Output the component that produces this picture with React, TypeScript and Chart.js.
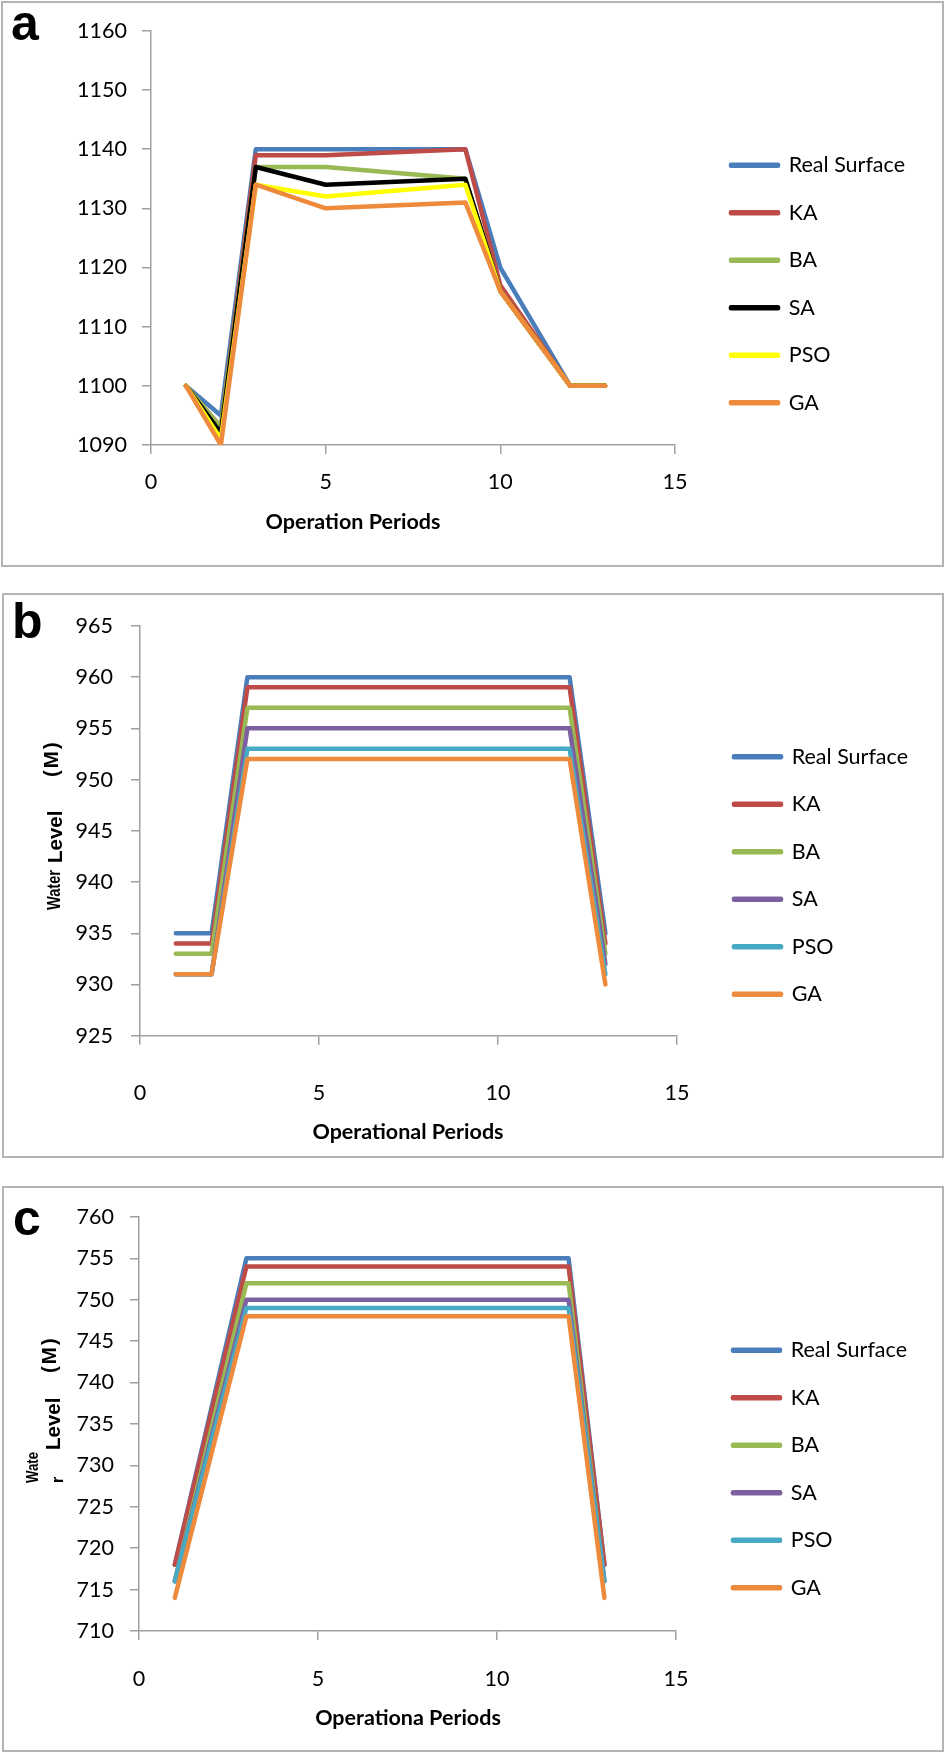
import { useEffect, useRef } from "react";
import { Chart, registerables } from "chart.js";

Chart.register(...registerables);
Chart.defaults.font.family = 'Lato, "Open Sans", sans-serif';
Chart.defaults.color = "#000";

// series names, shared by all three panels
const seriesNames = ["Real Surface", "KA", "BA", "SA", "PSO", "GA"];

// panel a
const periodsA = [1, 2, 3, 5, 9, 10, 12, 13];
const realA = [1100, 1095, 1140, 1140, 1140, 1120, 1100, 1100];
const kaA = [1100, 1093, 1139, 1139, 1140, 1117, 1100, 1100];
const baA = [1100, 1093, 1137, 1137, 1135, 1116, 1100, 1100];
const saA = [1100, 1092, 1137, 1134, 1135, 1116, 1100, 1100];
const psoA = [1100, 1091, 1134, 1132, 1134, 1116, 1100, 1100];
const gaA = [1100, 1090, 1134, 1130, 1131, 1116, 1100, 1100];
const yAxisA = [1090, 1160, 10];

// panel b
const periodsB = [1, 2, 3, 12, 13];
const realB = [935, 935, 960, 960, 935];
const kaB = [934, 934, 959, 959, 934];
const baB = [933, 933, 957, 957, 933];
const saB = [931, 931, 955, 955, 932];
const psoB = [931, 931, 953, 953, 931];
const gaB = [931, 931, 952, 952, 930];
const yAxisB = [925, 965, 5];

// panel c
const periodsC = [1, 3, 12, 13];
const realC = [718, 755, 755, 718];
const kaC = [718, 754, 754, 718];
const baC = [716, 752, 752, 716];
const saC = [716, 750, 750, 716];
const psoC = [716, 749, 749, 716];
const gaC = [714, 748, 748, 714];
const yAxisC = [710, 760, 5];

const xAxis = [0, 15, 5];

const colorsA = ["#4A7EBB", "#BE4B48", "#98B954", "#000000", "#FFFF00", "#EE8A3C"];
const colorsBC = ["#4A7EBB", "#BE4B48", "#98B954", "#7D60A0", "#46AAC5", "#EE8A3C"];

const AXIS = "#a0a0a0";
const TICK_FONT = 21.5;
const LEG_BOX = 47;
const LEG_PAD = 26;
const LETTER = 'bold 50px "Liberation Sans", Arial, sans-serif';
const TITLE = 'bold 21.5px Lato, "Open Sans", sans-serif';
const YT_BIG = 'bold 20.5px "Liberation Sans", Arial, sans-serif';
const YT_SMALL = 'bold 17.5px "Liberation Sans", Arial, sans-serif';
const YT_TINY = 'bold 16px "Liberation Sans", Arial, sans-serif';

type TextItem = {
  text: string;
  x: number;
  y: number;
  font: string;
  align?: CanvasTextAlign;
  rotate?: boolean;
  spacing?: string;
  fit?: number;
};

type PanelDef = {
  box: { left: number; top: number; width: number; height: number };
  plot: { left: number; right: number; top: number; bottom: number };
  legendLeft: number;
  xTickPad: number;
  yTickPad: number;
  periods: number[];
  series: number[][];
  colors: string[];
  yAxis: number[];
  texts: TextItem[];
};

const panels: PanelDef[] = [
  {
    box: { left: 1, top: 1, width: 943, height: 566 },
    plot: { left: 148, right: 672, top: 26.5, bottom: 442 },
    legendLeft: 702,
    xTickPad: 15.5,
    yTickPad: 15,
    periods: periodsA,
    series: [realA, kaA, baA, saA, psoA, gaA],
    colors: colorsA,
    yAxis: yAxisA,
    texts: [
      { text: "a", x: 8, y: 37, font: LETTER },
      { text: "Operation Periods", x: 350, y: 526, font: TITLE, align: "center" },
    ],
  },
  {
    box: { left: 2, top: 593, width: 942, height: 565 },
    plot: { left: 136, right: 673, top: 26.7, bottom: 440.7 },
    legendLeft: 704,
    xTickPad: 35,
    yTickPad: 18,
    periods: periodsB,
    series: [realB, kaB, baB, saB, psoB, gaB],
    colors: colorsBC,
    yAxis: yAxisB,
    texts: [
      { text: "b", x: 8, y: 43, font: LETTER },
      { text: "Operational Periods", x: 404, y: 544, font: TITLE, align: "center" },
      { text: "Water", x: 56, y: 315, font: YT_SMALL, rotate: true, fit: 40 },
      { text: "Level", x: 57.5, y: 268, font: YT_BIG, rotate: true, fit: 55 },
      { text: "(M)", x: 53.5, y: 182, font: YT_BIG, rotate: true, spacing: "2px" },
    ],
  },
  {
    box: { left: 2, top: 1186, width: 942, height: 566 },
    plot: { left: 135, right: 672, top: 27.5, bottom: 443 },
    legendLeft: 703,
    xTickPad: 26,
    yTickPad: 16,
    periods: periodsC,
    series: [realC, kaC, baC, saC, psoC, gaC],
    colors: colorsBC,
    yAxis: yAxisC,
    texts: [
      { text: "c", x: 9, y: 47, font: LETTER },
      { text: "Operationa Periods", x: 404, y: 537, font: TITLE, align: "center" },
      { text: "Wate", x: 34, y: 295, font: YT_TINY, rotate: true, fit: 31 },
      { text: "r", x: 59, y: 295, font: YT_TINY, rotate: true },
      { text: "Level", x: 56, y: 262, font: YT_BIG, rotate: true, fit: 53 },
      { text: "(M)", x: 52, y: 185, font: YT_BIG, rotate: true, spacing: "2px" },
    ],
  },
];

function textPlugin(items: TextItem[]) {
  return {
    id: "panelText",
    afterDraw(chart: Chart) {
      const ctx = chart.ctx;
      items.forEach((t) => {
        ctx.save();
        ctx.fillStyle = "#000";
        ctx.font = t.font;
        ctx.textAlign = t.align || "left";
        ctx.textBaseline = "alphabetic";
        if ("letterSpacing" in ctx) (ctx as any).letterSpacing = t.spacing || "0px";
        ctx.translate(t.x, t.y);
        if (t.rotate) ctx.rotate(-Math.PI / 2);
        if (t.fit) ctx.fillText(t.text, 0, 0, t.fit);
        else ctx.fillText(t.text, 0, 0);
        ctx.restore();
      });
    },
  };
}

function Panel({ def }: { def: PanelDef }) {
  const chartRef = useRef<HTMLCanvasElement>(null);
  const chartInstanceRef = useRef<Chart | null>(null);
  const w = def.box.width - 4;
  const h = def.box.height - 4;

  useEffect(() => {
    if (!chartRef.current) return;
    if (chartInstanceRef.current) chartInstanceRef.current.destroy();
    const ctx = chartRef.current.getContext("2d");
    if (!ctx) return;

    const p = def.plot;
    // legend width as Chart.js will compute it, so its left edge lands where wanted
    ctx.font = `${TICK_FONT}px ${Chart.defaults.font.family}`;
    const textW = Math.max(...seriesNames.map((n) => ctx.measureText(n).width));
    const legendWidth = LEG_PAD + LEG_BOX + TICK_FONT / 2 + textW + 10;

    chartInstanceRef.current = new Chart(ctx, {
      type: "line",
      data: {
        datasets: def.series.map((vals, i) => ({
          label: seriesNames[i],
          data: vals.map((v, j) => ({ x: def.periods[j], y: v })),
          borderColor: def.colors[i],
          backgroundColor: def.colors[i],
          borderWidth: 4.5,
          borderCapStyle: "round",
          borderJoinStyle: "round",
          pointRadius: 0,
          tension: 0,
          order: seriesNames.length - 1 - i,
        })),
      },
      options: {
        animation: false,
        responsive: false,
        events: [],
        layout: {
          padding: { left: 0, top: p.top, bottom: p.top, right: w - def.legendLeft - legendWidth },
        },
        plugins: {
          tooltip: { enabled: false },
          legend: {
            position: "right",
            reverse: true,
            maxWidth: 600,
            labels: {
              boxWidth: LEG_BOX,
              boxHeight: 1,
              padding: LEG_PAD,
              color: "#000",
              font: { size: TICK_FONT },
            },
          },
        },
        scales: {
          x: {
            type: "linear",
            min: xAxis[0],
            max: xAxis[1],
            ticks: {
              stepSize: xAxis[2],
              padding: def.xTickPad,
              maxRotation: 0,
              font: { size: TICK_FONT },
              callback: (v) => String(v),
            },
            grid: { drawOnChartArea: false, tickLength: 9, color: AXIS, lineWidth: 1.5 },
            border: { color: AXIS, width: 1.5 },
            afterFit: (s) => {
              s.height = h - p.top - p.bottom;
            },
          },
          y: {
            type: "linear",
            min: def.yAxis[0],
            max: def.yAxis[1],
            ticks: {
              stepSize: def.yAxis[2],
              padding: def.yTickPad,
              font: { size: TICK_FONT },
              callback: (v) => String(v),
            },
            grid: { drawOnChartArea: false, tickLength: 9, color: AXIS, lineWidth: 1.5 },
            border: { color: AXIS, width: 1.5 },
            afterFit: (s) => {
              s.width = p.left;
            },
          },
          gap: {
            type: "linear",
            position: "right",
            grid: { display: false },
            border: { display: false },
            ticks: { display: false },
            afterFit: (s) => {
              s.width = def.legendLeft - p.right;
            },
          },
        },
      },
      plugins: [textPlugin(def.texts)],
    });

    return () => {
      if (chartInstanceRef.current) {
        chartInstanceRef.current.destroy();
        chartInstanceRef.current = null;
      }
    };
  }, [def, w, h]);

  return (
    <div
      style={{
        position: "absolute",
        left: def.box.left,
        top: def.box.top,
        width: def.box.width,
        height: def.box.height,
        border: "2px solid #b4b4b4",
        boxSizing: "border-box",
        background: "#fff",
      }}
    >
      <canvas ref={chartRef} width={w} height={h} style={{ display: "block", width: w, height: h }} />
    </div>
  );
}

export default function App() {
  return (
    <div style={{ position: "absolute", left: 0, top: 0, width: 946, height: 1752, background: "#fff" }}>
      {panels.map((d, i) => (
        <Panel key={i} def={d} />
      ))}
    </div>
  );
}
